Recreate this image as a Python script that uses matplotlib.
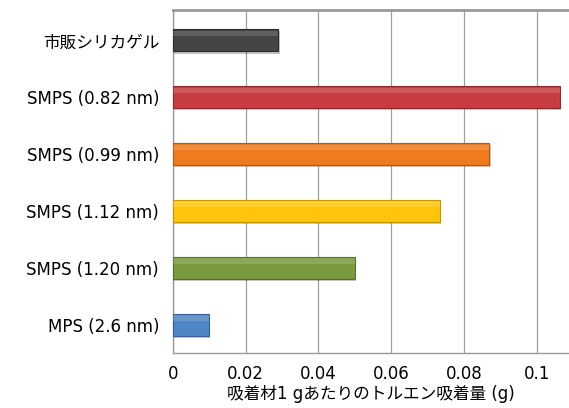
import matplotlib.pyplot as plt
import matplotlib.patheffects as pe

plt.rcParams['font.family'] = ['DejaVu Sans', 'Noto Sans CJK JP']

# 吸着材ごとのトルエン吸着量
labels = ['市販シリカゲル', 'SMPS (0.82 nm)', 'SMPS (0.99 nm)',
          'SMPS (1.12 nm)', 'SMPS (1.20 nm)', 'MPS (2.6 nm)']
values = [0.029, 0.1063, 0.087, 0.0733, 0.050, 0.0099]
colors = ['#454545', '#c83d3f', '#ef7b1c', '#ffc50a', '#7a9a3e', '#4f86c6']
edges = ['#2a2a2a', '#8f2a2b', '#b55a12', '#c99500', '#56702a', '#386199']
ticks = [0, 0.02, 0.04, 0.06, 0.08, 0.1]
tick_labels = ['0', '0.02', '0.04', '0.06', '0.08', '0.1']

fig = plt.figure(figsize=(5.69, 4.08), dpi=100)
ax = fig.add_axes([0.304, 0.135, 0.696, 0.84])

ypos = list(range(len(labels)))
bars = ax.barh(ypos, values, height=0.39, color=colors, edgecolor=edges,
               linewidth=0.8, zorder=3)
for b in bars:
    b.set_path_effects([pe.SimplePatchShadow(offset=(1, -1.5), alpha=0.25),
                        pe.Normal()])

# 上側の明るいハイライト
for y, v in zip(ypos, values):
    ax.barh(y - 0.12, v, height=0.1, color='white', alpha=0.14,
            linewidth=0, zorder=4)

ax.set_xlim(0, 0.1089)
ax.set_ylim(5.49, -0.53)
ax.set_yticks(ypos)
ax.set_yticklabels(labels, fontsize=12)
ax.set_xticks(ticks)
ax.set_xticklabels(tick_labels, fontsize=12)
ax.tick_params(length=0, pad=10)
ax.tick_params(axis='x', pad=9)

ax.grid(axis='x', color='#a0a0a0', linewidth=0.9, zorder=0)
ax.set_axisbelow(True)
for s in ['left', 'bottom']:
    ax.spines[s].set_color('#999999')
    ax.spines[s].set_linewidth(1.0)
ax.spines['top'].set_color('#999999')
ax.spines['top'].set_linewidth(2.0)
ax.spines['right'].set_visible(False)

ax.set_xlabel('吸着材1 gあたりのトルエン吸着量 (g)', fontsize=12, labelpad=1)

fig.savefig('out.png', dpi=100)
